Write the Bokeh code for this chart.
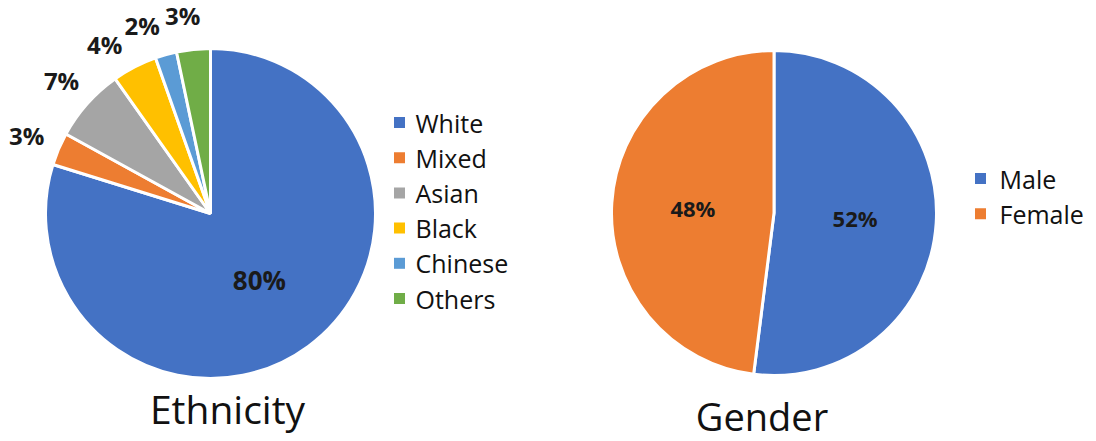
import math
from bokeh.plotting import figure
from bokeh.models import Range1d, ColumnDataSource
from bokeh.core.properties import value
from bokeh.embed import file_html
from bokeh.resources import INLINE

# ---- data ----
eth_labels = ["White", "Mixed", "Asian", "Black", "Chinese", "Others"]
eth_values = [79.8, 3.2, 7.2, 4.4, 2.1, 3.3]
eth_colors = ["#4472C4", "#ED7D31", "#A5A5A5", "#FFC000", "#5B9BD5", "#70AD47"]

gen_labels = ["Male", "Female"]
gen_values = [52, 48]
gen_colors = ["#4472C4", "#ED7D31"]

W, H = 1096, 441
FONT = "Open Sans"

p = figure(width=W, height=H, output_backend="svg", toolbar_location=None,
           x_range=Range1d(0, W), y_range=Range1d(0, H),
           x_axis_location=None, y_axis_location=None, min_border=0,
           outline_line_color=None)
p.xgrid.visible = False
p.ygrid.visible = False


def Y(sy):
    return H - sy


def pie(cx, cy, r, vals, cols):
    tot = sum(vals)
    starts, ends, mids = [], [], []
    acc = 0.0
    for v in vals:
        a0 = acc / tot * 2 * math.pi
        acc += v
        a1 = acc / tot * 2 * math.pi
        starts.append(math.pi / 2 - a1)
        ends.append(math.pi / 2 - a0)
        mids.append((a0 + a1) / 2)
    src = ColumnDataSource(dict(x=[cx] * len(vals), y=[cy] * len(vals),
                                s=starts, e=ends, c=cols))
    p.wedge(x="x", y="y", radius=r, start_angle="s", end_angle="e",
            fill_color="c", line_color="white", line_width=3, source=src)
    return mids, tot


def label_at(cx, cy, dist, ang, txt, size):
    p.text(x=[cx + dist * math.sin(ang)], y=[cy + dist * math.cos(ang)], text=[txt],
           text_font=value(FONT), text_font_size=value(size), text_font_style="bold",
           text_align="center", text_baseline="middle", text_color="#1a1a1a")


# ---- Ethnicity pie ----
ecx, ecy, er = 210, Y(213), 165
mids, tot = pie(ecx, ecy, er, eth_values, eth_colors)
# outside labels: keep them apart (min angular gap), last one kept before 12 o'clock
lab_ang = list(mids)
limit = math.radians(352)
for i in range(len(lab_ang) - 1, 0, -1):
    lab_ang[i] = min(lab_ang[i], limit)
    limit = lab_ang[i] - math.radians(12)
for i, v in enumerate(eth_values):
    txt = f"{round(v / tot * 100)}%"
    if i == 0:
        label_at(ecx, ecy, er * 0.5, lab_ang[i], txt, "26px")
    else:
        label_at(ecx, ecy, er * 1.21, lab_ang[i], txt, "24px")

for i, (lab, col) in enumerate(zip(eth_labels, eth_colors)):
    yy = Y(122 + 35.2 * i)
    p.scatter([399], [yy], marker="square", size=11, fill_color=col, line_color=None)
    p.text([415], [yy], text=[lab], text_font=value(FONT), text_font_size=value("25px"),
           text_align="left", text_baseline="middle", text_color="#111111")

p.text([227], [Y(408)], text=["Ethnicity"], text_font=value(FONT), text_font_size=value("39px"),
       text_align="center", text_baseline="middle", text_color="#111111")

# ---- Gender pie ----
gcx, gcy, gr = 773.5, Y(212.5), 162.5
mids, tot = pie(gcx, gcy, gr, gen_values, gen_colors)
for m, v in zip(mids, gen_values):
    label_at(gcx, gcy, gr * 0.5, m, f"{round(v / tot * 100)}%", "22px")

for i, (lab, col) in enumerate(zip(gen_labels, gen_colors)):
    yy = Y(178 + 35.2 * i)
    p.scatter([980], [yy], marker="square", size=11, fill_color=col, line_color=None)
    p.text([999], [yy], text=[lab], text_font=value(FONT), text_font_size=value("25px"),
           text_align="left", text_baseline="middle", text_color="#111111")

p.text([761.5], [Y(415)], text=["Gender"], text_font=value(FONT), text_font_size=value("38px"),
       text_align="center", text_baseline="middle", text_color="#111111")

open("out.html", "w").write(file_html(p, INLINE))
